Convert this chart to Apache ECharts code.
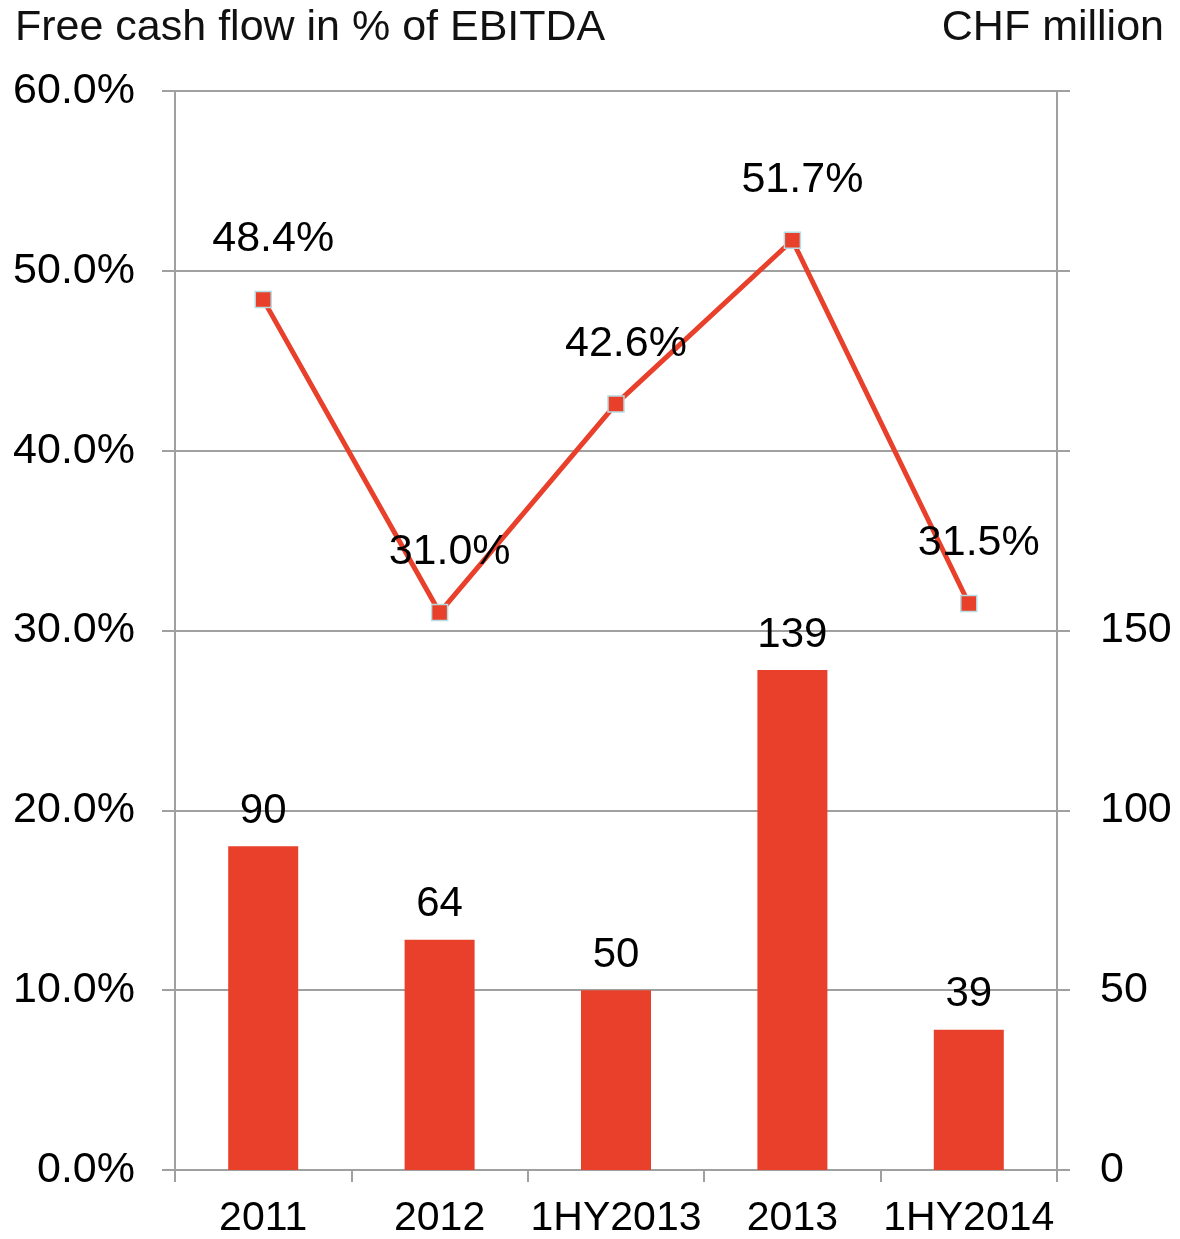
<!DOCTYPE html>
<html><head><meta charset="utf-8">
<script src="https://cdn.jsdelivr.net/npm/echarts@6/dist/echarts.min.js"></script>
<style>html,body{margin:0;padding:0;background:#fff}#c{width:1180px;height:1239px}</style>
</head><body><div id="c"></div>
<script>
const categories = ['2011', '2012', '1HY2013', '2013', '1HY2014'];
const fcfChf = [90, 64, 50, 139, 39];
const fcfPct = [48.4, 31.0, 42.6, 51.7, 31.5];
const leftTitle = 'Free cash flow in % of EBITDA';
const rightTitle = 'CHF million';

const RED = '#E8402A';
const GRAY = '#a0a0a0';
const FONT = 'Liberation Sans, Arial, sans-serif';
const chart = echarts.init(document.getElementById('c'), null, {renderer: 'canvas'});
chart.setOption({
  animation: false,
  textStyle: {fontFamily: FONT, color: '#000'},
  graphic: [
    {type: 'text', left: 15, top: 7, style: {text: leftTitle, font: '43px ' + FONT, fill: '#111'}},
    {type: 'text', right: 16, top: 7, style: {text: rightTitle, font: '43px ' + FONT, fill: '#111'}}
  ],
  grid: {left: 175, right: 123, top: 91, bottom: 64, containLabel: false},
  xAxis: {
    type: 'category', data: categories,
    axisLine: {lineStyle: {color: GRAY, width: 2}},
    axisTick: {show: true, length: 12, interval: 0, lineStyle: {color: GRAY, width: 2}},
    axisLabel: {interval: 0, fontSize: 41, color: '#000', margin: 28, fontFamily: FONT}
  },
  yAxis: [
    {
      type: 'value', min: 0, max: 60, interval: 10, position: 'left',
      axisLine: {show: true, lineStyle: {color: GRAY, width: 2}},
      axisTick: {show: true, length: 13, lineStyle: {color: GRAY, width: 2}},
      splitLine: {show: true, lineStyle: {color: GRAY, width: 2}},
      axisLabel: {fontSize: 43, color: '#000', margin: 40, fontFamily: FONT,
        formatter: v => v.toFixed(1) + '%'}
    },
    {
      type: 'value', min: 0, max: 300, interval: 50, position: 'right',
      axisLine: {show: true, lineStyle: {color: GRAY, width: 2}},
      axisTick: {show: true, length: 13, lineStyle: {color: GRAY, width: 2}},
      splitLine: {show: false},
      axisLabel: {fontSize: 43, color: '#000', margin: 43, fontFamily: FONT,
        formatter: v => (v <= 150 ? String(v) : '')}
    }
  ],
  series: [
    {
      type: 'bar', yAxisIndex: 1, data: fcfChf, barWidth: 70,
      itemStyle: {color: RED},
      label: {show: true, position: 'top', distance: 14, fontSize: 42, color: '#000', fontFamily: FONT}
    },
    {
      type: 'line', yAxisIndex: 0, data: fcfPct,
      lineStyle: {color: RED, width: 5},
      symbol: 'rect', symbolSize: 16,
      itemStyle: {color: RED, borderColor: '#b6dde3', borderWidth: 1.5},
      label: {show: true, position: 'top', distance: 30, offset: [10, 0], fontSize: 43, color: '#000', fontFamily: FONT,
        formatter: p => p.value.toFixed(1) + '%'},
      z: 5
    }
  ]
});
</script></body></html>
